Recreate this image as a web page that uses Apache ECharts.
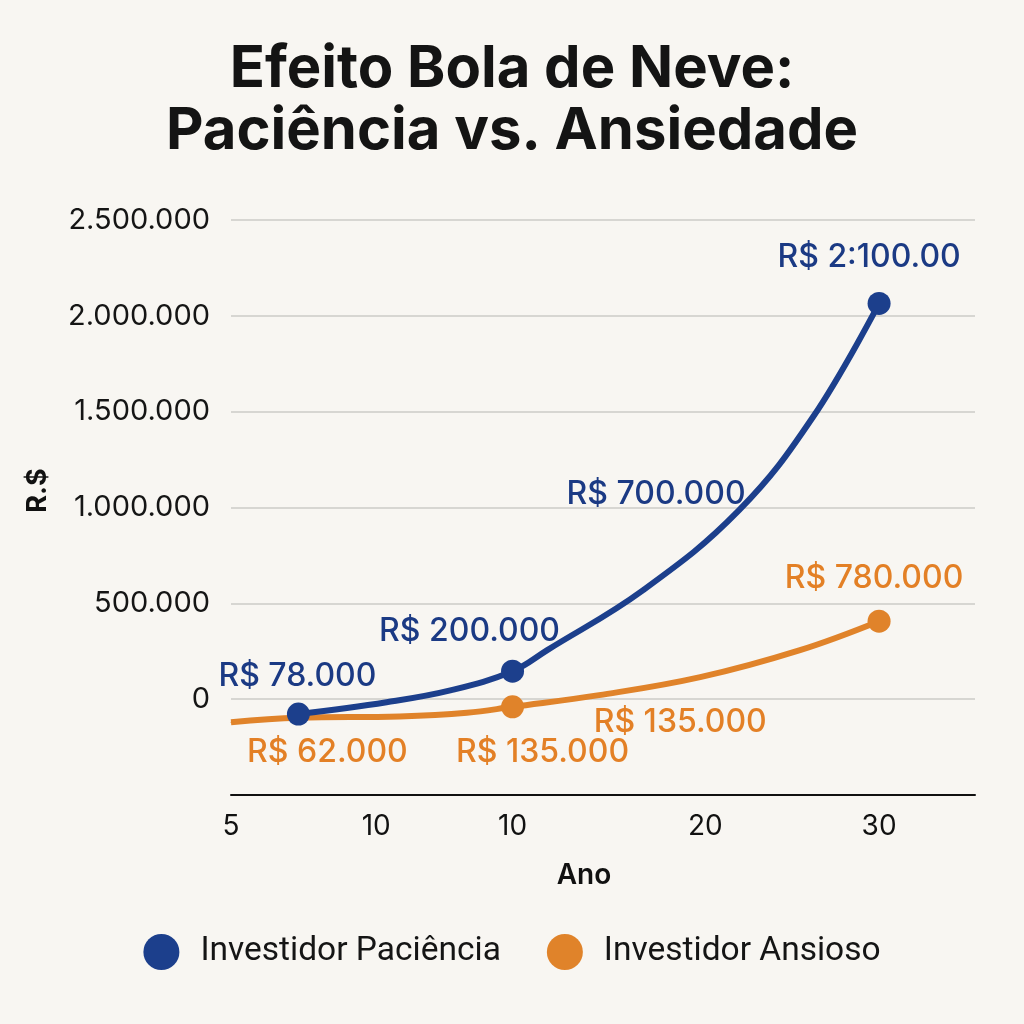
<!DOCTYPE html>
<html>
<head>
<meta charset="utf-8">
<script src="https://cdn.jsdelivr.net/npm/echarts@6/dist/echarts.min.js"></script>
<style>
html,body{margin:0;padding:0;background:#f8f6f2;}
#chart{width:1024px;height:1024px;}
</style>
</head>
<body>
<div id="chart"></div>
<script>
// ---- data ----
const titleText = 'Efeito Bola de Neve:\nPaciência vs. Ansiedade';
const seriesNames = ['Investidor Paciência', 'Investidor Ansioso'];

const xTickValues = [5, 10.6, 15.86, 23.3, 30];
const xTickLabels = ['5', '10', '10', '20', '30'];

const pacienciaX = [7.6, 11.0, 13.5, 15.86, 17.2, 20.9, 24.6, 27.45, 30];
const pacienciaY = [-78000, -16000, 47000, 146000, 256000, 569000, 986000, 1472000, 2065000];
const pacienciaMarkers = [0, 3, 8];
const pacienciaLabelIdx = [0, 3, 6, 8];
const pacienciaLabels = ['R$ 78.000', 'R$ 200.000', 'R$ 700.000', 'R$ 2:100.00'];

const ansiosoX = [5, 7.6, 11.5, 14.1, 15.86, 19.2, 23.1, 26.95, 30];
const ansiosoY = [-120000, -97000, -90000, -71000, -40000, 21000, 115000, 256000, 407000];
const ansiosoMarkers = [4, 8];
const ansiosoLabelIdx = [1, 4, 6, 8];
const ansiosoLabels = ['R$ 62.000', 'R$ 135.000', 'R$ 135.000', 'R$ 780.000'];

// ---- label placement (styling, not data) ----
const pacienciaOffsets = [[-1, -38], [-43, -40], [-83, -16], [-10, -46]];
const ansiosoOffsets = [[29, 35], [30, 46], [-20, 45], [-5, -43]];

const BLUE = '#1c3f8c';
const ORANGE = '#e0832a';
const BLUE_TXT = '#1b3a84';
const ORANGE_TXT = '#e38026';

function fmtNum(v) {
  const s = String(Math.abs(Math.round(v)));
  return (v < 0 ? '-' : '') + s.replace(/\B(?=(\d{3})+(?!\d))/g, '.');
}

function buildData(xs, ys, markers, labelIdx, labels, offsets, txtColor) {
  return xs.map((x, i) => {
    const item = { value: [x, ys[i]] };
    item.symbol = 'circle';
    item.symbolSize = markers.includes(i) ? 23 : 1;
    const li = labelIdx.indexOf(i);
    if (li >= 0) {
      item.label = {
        show: true,
        formatter: labels[li],
        position: 'inside',
        align: 'center',
        verticalAlign: 'middle',
        offset: offsets[li],
        color: txtColor,
        fontSize: 32,
        fontWeight: 500,
        fontFamily: 'Inter'
      };
    }
    return item;
  });
}

const chart = echarts.init(document.getElementById('chart'), null, { renderer: 'canvas' });

chart.setOption({
  backgroundColor: '#f8f6f2',
  animation: false,
  title: {
    text: titleText,
    left: 'center',
    top: 34,
    textStyle: {
      fontFamily: 'Inter',
      fontWeight: 700,
      fontSize: 58,
      lineHeight: 62,
      color: '#141414'
    }
  },
  legend: {
    bottom: 49,
    left: 'center',
    icon: 'circle',
    itemWidth: 36,
    itemHeight: 36,
    itemGap: 46,
    data: seriesNames,
    textStyle: {
      fontFamily: 'Roboto',
      fontSize: 33.5,
      color: '#151515',
      padding: [0, 0, 0, 16]
    }
  },
  grid: { left: 231, right: 49, top: 220, bottom: 229, containLabel: false },
  xAxis: {
    type: 'value',
    min: 5,
    max: 33.7,
    name: 'Ano',
    nameLocation: 'middle',
    nameGap: 67,
    nameTextStyle: {
      fontFamily: 'Inter', fontSize: 28, fontWeight: 600, color: '#111',
      padding: [0, 38, 0, 0]
    },
    axisLine: { show: true, onZero: false, lineStyle: { color: '#111', width: 2 } },
    axisTick: { show: false },
    splitLine: { show: false },
    axisLabel: {
      customValues: xTickValues,
      showMinLabel: true,
      showMaxLabel: true,
      hideOverlap: false,
      margin: 18,
      fontFamily: 'Inter',
      fontSize: 28,
      color: '#111',
      formatter: function (v) {
        let best = 0, d = Infinity;
        xTickValues.forEach((t, i) => { if (Math.abs(t - v) < d) { d = Math.abs(t - v); best = i; } });
        return xTickLabels[best];
      }
    }
  },
  yAxis: {
    type: 'value',
    min: -500000,
    max: 2500000,
    interval: 500000,
    name: 'R.$',
    nameLocation: 'middle',
    nameGap: 180,
    nameTextStyle: {
      fontFamily: 'Inter', fontSize: 27, fontWeight: 700, color: '#111',
      padding: [0, 0, 0, 34]
    },
    axisLine: { show: false },
    axisTick: { show: false },
    splitLine: { show: true, lineStyle: { color: '#cdcbc7', width: 1.5 } },
    axisLabel: {
      margin: 21,
      fontFamily: 'Inter',
      fontSize: 29,
      color: '#151515',
      formatter: function (v) { return v < 0 ? '' : fmtNum(v); }
    }
  },
  series: [
    {
      name: seriesNames[0],
      type: 'line',
      smooth: 0.4,
      color: BLUE,
      lineStyle: { width: 6, color: BLUE },
      itemStyle: { color: BLUE },
      z: 3,
      data: buildData(pacienciaX, pacienciaY, pacienciaMarkers, pacienciaLabelIdx, pacienciaLabels, pacienciaOffsets, BLUE_TXT)
    },
    {
      name: seriesNames[1],
      type: 'line',
      smooth: 0.4,
      color: ORANGE,
      lineStyle: { width: 6, color: ORANGE },
      itemStyle: { color: ORANGE },
      z: 2,
      data: buildData(ansiosoX, ansiosoY, ansiosoMarkers, ansiosoLabelIdx, ansiosoLabels, ansiosoOffsets, ORANGE_TXT)
    }
  ]
});
</script>
</body>
</html>
